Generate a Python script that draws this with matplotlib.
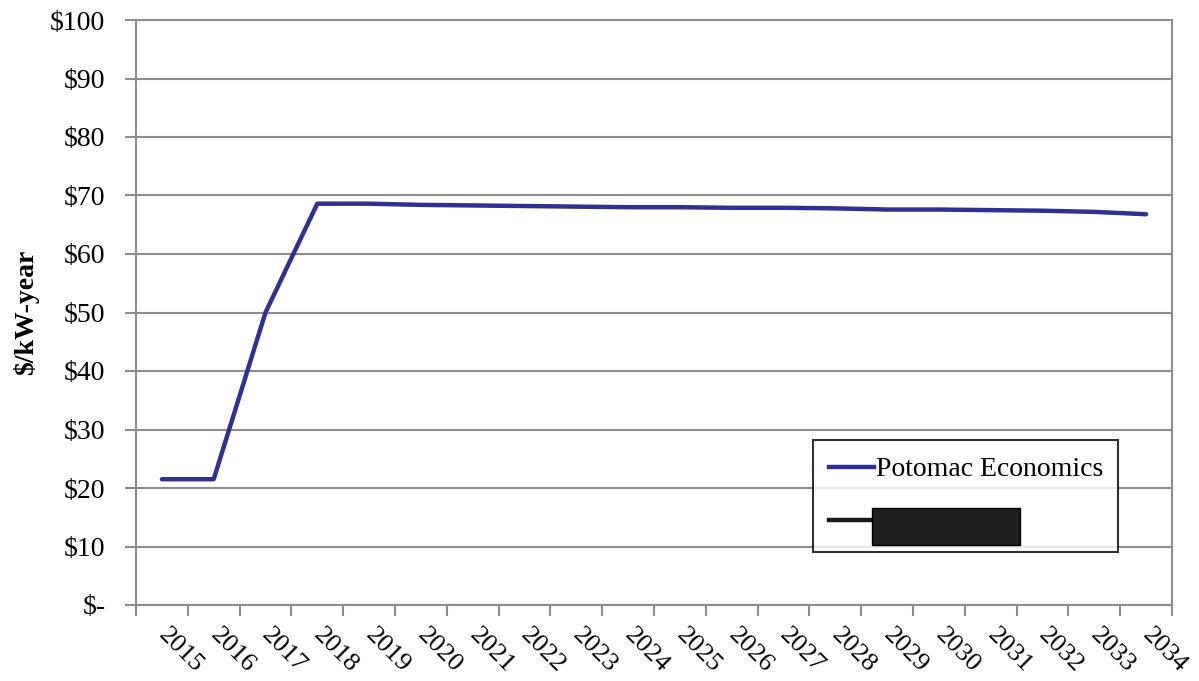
import matplotlib
matplotlib.use('Agg')
import matplotlib.pyplot as plt
from matplotlib.lines import Line2D
from matplotlib.patches import Rectangle
from matplotlib.ticker import FuncFormatter, FixedLocator

years = [str(y) for y in range(2015, 2035)]
potomac = [21.5, 21.5, 50.0, 68.6, 68.6, 68.4, 68.3, 68.2, 68.1, 68.0,
           68.0, 67.9, 67.9, 67.8, 67.6, 67.6, 67.5, 67.4, 67.2, 66.8]

plt.rcParams['font.family'] = ['Liberation Serif', 'DejaVu Serif']
GRID = '#8c8c8c'
BLUE = '#2e3192'

fig = plt.figure(figsize=(11.99, 6.81), dpi=100)
ax = fig.add_axes([136 / 1199, 76 / 681, 1036 / 1199, 585 / 681])

x = list(range(len(years)))
ax.plot(x, potomac, color=BLUE, lw=3.2, solid_capstyle='round', zorder=3)

ax.set_xlim(-0.5, len(years) - 0.5)
ax.set_ylim(0, 100)
ax.set_yticks(range(0, 101, 10))
ax.yaxis.set_major_formatter(FuncFormatter(lambda v, p: '$-' if v == 0 else f'${int(v)}'))
ax.grid(axis='y', color=GRID, lw=1.5)
ax.set_axisbelow(True)

# tick marks at category boundaries, labels centred on categories
ax.xaxis.set_major_locator(FixedLocator([i - 0.5 for i in range(len(years) + 1)]))
ax.set_xticklabels([])
ax.set_xticks(x, minor=True)
ax.set_xticklabels(years, minor=True, rotation=-45, ha='left', va='center',
                   rotation_mode='anchor', fontsize=19)
ax.tick_params(axis='x', which='minor', length=0, pad=19)
ax.tick_params(axis='x', which='major', length=8, width=1.5, color=GRID)
ax.tick_params(axis='y', length=8, width=1.5, color=GRID, labelsize=20, pad=14)

for s in ax.spines.values():
    s.set_color(GRID)
    s.set_linewidth(1.5)

ax.set_ylabel('$/kW-year', fontsize=20, fontweight='bold', labelpad=8)

handles = [Line2D([], [], color=BLUE, lw=3.2),
           Line2D([], [], color='#1a1a1a', lw=3.2)]
leg = ax.legend(handles, ['Potomac Economics', ' '], loc='lower left',
                bbox_to_anchor=(0.653, 0.09, 0.295, 0.186), mode='expand',
                fontsize=20, frameon=True,
                fancybox=False, edgecolor='black', handlelength=1.6,
                handletextpad=0.1, labelspacing=1.0, borderpad=0.6,
                borderaxespad=0)
leg.get_frame().set_linewidth(1.5)

# redacted label block
fig.patches.append(Rectangle((872 / 1199, 136 / 681), 148 / 1199, 37 / 681,
                             transform=fig.transFigure, facecolor='#1f1f1f',
                             edgecolor='black', zorder=10))

fig.savefig('out.png', dpi=100)
